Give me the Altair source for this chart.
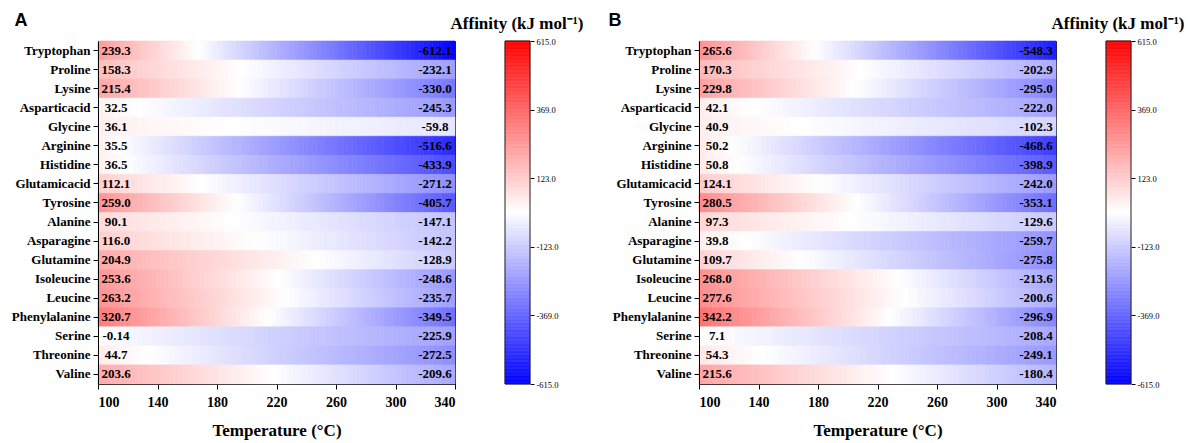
import altair as alt
import pandas as pd

names = ["Tryptophan", "Proline", "Lysine", "Asparticacid", "Glycine", "Arginine",
         "Histidine", "Glutamicacid", "Tyrosine", "Alanine", "Asparagine", "Glutamine",
         "Isoleucine", "Leucine", "Phenylalanine", "Serine", "Threonine", "Valine"]

a_100 = [239.3, 158.3, 215.4, 32.5, 36.1, 35.5, 36.5, 112.1, 259.0, 90.1, 116.0, 204.9,
         253.6, 263.2, 320.7, -0.14, 44.7, 203.6]
a_340 = [-612.1, -232.1, -330.0, -245.3, -59.8, -516.6, -433.9, -271.2, -405.7, -147.1,
         -142.2, -128.9, -248.6, -235.7, -349.5, -225.9, -272.5, -209.6]
b_100 = [265.6, 170.3, 229.8, 42.1, 40.9, 50.2, 50.8, 124.1, 280.5, 97.3, 39.8, 109.7,
         268.0, 277.6, 342.2, 7.1, 54.3, 215.6]
b_340 = [-548.3, -202.9, -295.0, -222.0, -102.3, -468.6, -398.9, -242.0, -353.1, -129.6,
         -259.7, -275.8, -213.6, -200.6, -296.9, -208.4, -249.1, -180.4]

x_ticks = [100, 140, 180, 220, 260, 300, 340]
bar_ticks = [615, 369, 123, -123, -369, -615]
color_domain = [-615, 0, 615]
color_range = ["#0000ff", "#ffffff", "#ff0000"]

W, H = 357, 343
SERIF = "Liberation Serif"
SANS = "Liberation Sans"


def color_scale():
    return alt.Scale(domain=color_domain, range=color_range, interpolate="rgb")


def y_axis():
    return alt.Axis(title=None, labelFontSize=13, labelFontWeight="bold",
                    tickSize=5, labelPadding=3)


def panel(v100, v340, letter, letter_x):
    df = pd.DataFrame({
        "name": names, "v100": v100, "v340": v340,
        "lab100": [str(v) for v in v100], "lab340": [str(v) for v in v340],
    })
    base = alt.Chart(df)
    yenc = alt.Y("name:N", sort=names, scale=alt.Scale(paddingInner=0, paddingOuter=0),
                 axis=y_axis())
    heat = base.transform_calculate(
        s="sequence(0, 80)"
    ).transform_flatten(["s"]).transform_calculate(
        t0="100 + datum.s * 3",
        t1="103 + datum.s * 3",
        value="datum.v100 + (datum.v340 - datum.v100) * (datum.s * 3 + 1.5) / 240",
    ).mark_rect(strokeWidth=0.6).encode(
        x=alt.X("t0:Q", scale=alt.Scale(domain=[100, 340], nice=False, zero=False),
                axis=alt.Axis(values=x_ticks, title="Temperature (°C)", grid=False,
                              labelFontSize=14, labelFontWeight="bold", labelPadding=6,
                              titleFontSize=17, titleFontWeight="bold", titlePadding=13,
                              tickSize=5, format="d")),
        x2="t1:Q",
        y=yenc,
        color=alt.Color("value:Q", scale=color_scale(), legend=None),
        stroke=alt.Stroke("value:Q", scale=color_scale(), legend=None),
    )
    txt_left = base.mark_text(font=SERIF, fontWeight="bold", fontSize=13, align="center",
                              baseline="middle", color="black").encode(
        y=yenc,
        x=alt.value(18),
        text="lab100:N",
    )
    txt_right = base.mark_text(font=SERIF, fontWeight="bold", fontSize=13, align="center",
                               baseline="middle", color="black").encode(
        y=yenc,
        x=alt.value(W - 20),
        text="lab340:N",
    )
    inner = alt.layer(heat, txt_left, txt_right)

    cb = alt.Chart(alt.sequence(-615, 615, 5, as_="v")).transform_calculate(
        v2="datum.v + 5"
    ).mark_rect(strokeWidth=0.6).encode(
        x=alt.value(407), x2=alt.value(432),
        y=alt.Y("v:Q", scale=alt.Scale(domain=[-615, 615], nice=False, zero=False),
                axis=alt.Axis(orient="right", offset=75, values=bar_ticks,
                              labelExpr="datum.value + '.0'",
                              title=None, grid=False, domain=False, tickSize=4,
                              labelFontSize=8.5, labelPadding=2, labelOverlap=False,
                              labelFontWeight="normal")),
        y2="v2:Q",
        color=alt.Color("v:Q", scale=color_scale(), legend=None),
        stroke=alt.Stroke("v:Q", scale=color_scale(), legend=None),
    )
    dummy = alt.Data(values=[{"k": 1}])
    frame = alt.Chart(dummy).mark_rect(filled=False, stroke="#222", strokeWidth=1).encode(
        x=alt.value(407), x2=alt.value(432), y=alt.value(0), y2=alt.value(H)
    )
    title = alt.Chart(dummy).mark_text(font=SERIF, fontWeight="bold", fontSize=17,
                                       align="center", baseline="middle", color="black").encode(
        x=alt.value(419), y=alt.value(-17), text=alt.value("Affinity (kJ mol⁻¹)")
    )
    let = alt.Chart(dummy).mark_text(font=SANS, fontWeight="bold", fontSize=18,
                                     align="center", baseline="middle", color="black").encode(
        x=alt.value(letter_x), y=alt.value(-20), text=alt.value(letter)
    )
    return alt.layer(inner, cb, frame, title, let).resolve_scale(y="independent").properties(
        width=W, height=H)


pA = panel(a_100, a_340, "A", -77)
pB = panel(b_100, b_340, "B", -84)

chart = alt.hconcat(pA, pB, spacing=24).configure_view(
    stroke="#222", strokeWidth=1
).configure_axis(
    labelColor="black", tickColor="black", domainColor="black",
    labelFont=SERIF, titleFont=SERIF, titleColor="black"
).properties(padding={"left": 10, "top": 11, "right": 5, "bottom": 5})

chart.save("out.html", embed_options={"renderer": "svg", "actions": False})
